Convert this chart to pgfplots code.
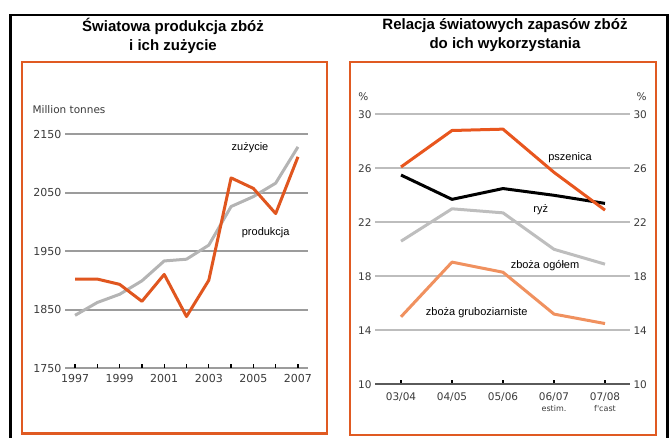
\documentclass[border=0pt]{standalone}
\usepackage{fontspec}
\setmainfont{Liberation Sans}
\newfontfamily\tickfont{DejaVu Sans}
\usepackage{pgfplots}
\pgfplotsset{compat=1.18}

\definecolor{boxorange}{HTML}{E05A22}
\definecolor{prodorange}{HTML}{E0561F}
\definecolor{consgray}{HTML}{B4B4B4}
\definecolor{gridgray}{HTML}{9C9C9C}
\definecolor{rgridgray}{HTML}{BDBDBD}
\definecolor{basegray}{HTML}{5A5A5A}
\definecolor{labelgray}{HTML}{3A3A3A}
\definecolor{wheat}{HTML}{E8561E}
\definecolor{allgray}{HTML}{BEBEBE}
\definecolor{coarse}{HTML}{F0915F}

\begin{document}
\begin{tikzpicture}[x=1pt,y=1pt]
\path[use as bounding box] (0,0) rectangle (669,437);

% outer frame and panel boxes
\draw[black,line width=2.5pt] (10.5,-5) -- (10.5,422) -- (667.5,422) -- (667.5,-5);
\draw[boxorange,line width=2.5pt] (22,3.5) rectangle (327,375);
\draw[boxorange,line width=2.5pt] (350,2) rectangle (656,375);

% titles
\node[align=center,font=\bfseries\fontsize{15}{19}\selectfont] at (173,401.5)
  {Światowa produkcja zbóż\\i ich zużycie};
\node[align=center,font=\bfseries\fontsize{15}{19}\selectfont] at (505,401.5)
  {Relacja światowych zapasów zbóż\\do ich wykorzystania};

% left chart: production and consumption
\begin{axis}[
    at={(65pt,69pt)}, anchor=south west,
    scale only axis, width=243pt, height=234pt,
    xmin=1996.55, xmax=2007.45,
    ymin=1750, ymax=2150,
    ytick={1750,1850,...,2150},
    xtick={1997,...,2007},
    xticklabels={1997,,1999,,2001,,2003,,2005,,2007},
    xticklabel style={yshift=-3pt},
    axis line style={draw=none},
    ymajorgrids, grid style={gridgray,line width=2pt},
    tick align=inside, xtick pos=bottom, ytick pos=left,
    major tick length=4.5pt,
    xtick style={black,line width=1.3pt},
    ytick style={draw=none},
    tick label style={font=\tickfont\fontsize{11}{12}\selectfont,text=labelgray},
    /pgf/number format/assume math mode=true,
    /pgf/number format/set thousands separator={},
    clip=false,
]
\addplot[consgray,line width=3pt,line join=round] coordinates {
  (1997,1840) (1998,1862) (1999,1876) (2000,1899) (2001,1933) (2002,1936)
  (2003,1960) (2004,2026) (2005,2043) (2006,2066) (2007,2128)};
\addplot[prodorange,line width=3pt,line join=round] coordinates {
  (1997,1902) (1998,1902) (1999,1893) (2000,1864) (2001,1910) (2002,1838)
  (2003,1900) (2004,2075) (2005,2057) (2006,2014) (2007,2111)};
\end{axis}

\node[anchor=west,font=\tickfont\fontsize{10.5}{12}\selectfont,text=labelgray] at (29,327) {Million tonnes};
\node[font=\fontsize{11}{13}\selectfont] at (250,289) {zużycie};
\node[font=\fontsize{11}{13}\selectfont] at (265.7,204.3) {produkcja};

% right chart: stocks-to-use ratio
\begin{axis}[
    at={(375pt,52.7pt)}, anchor=south west,
    scale only axis, width=255pt, height=270pt,
    xmin=-0.51, xmax=4.49,
    ymin=10, ymax=30,
    ytick={14,18,...,30},
    extra y ticks={10},
    extra y tick style={grid style={basegray,line width=2pt}},
    xtick={0,...,4},
    xticklabels={03/04,04/05,05/06,
      {06/07\\[-1pt]{\fontsize{8}{9}\selectfont estim.}},
      {07/08\\[-1pt]{\fontsize{8}{9}\selectfont f'cast}}},
    xticklabel style={align=center,yshift=-5pt},
    axis line style={draw=none},
    ymajorgrids, grid style={rgridgray,line width=2.2pt},
    tick align=inside, xtick pos=bottom, ytick pos=left,
    major tick length=4.5pt,
    xtick style={black,line width=1.3pt},
    ytick style={draw=none},
    tick label style={font=\tickfont\fontsize{10.5}{12}\selectfont,text=labelgray},
    /pgf/number format/assume math mode=true,
    clip=false,
]
\addplot[coarse,line width=3pt,line join=round] coordinates {
  (0,15.0) (1,19.05) (2,18.3) (3,15.2) (4,14.5)};
\addplot[allgray,line width=3pt,line join=round] coordinates {
  (0,20.6) (1,23.0) (2,22.7) (3,20.0) (4,18.9)};
\addplot[black,line width=3pt,line join=round] coordinates {
  (0,25.5) (1,23.7) (2,24.5) (3,24.0) (4,23.4)};
\addplot[wheat,line width=3pt,line join=round] coordinates {
  (0,26.1) (1,28.8) (2,28.9) (3,25.7) (4,22.9)};
\end{axis}

% right-hand tick labels
\begin{axis}[
    at={(375pt,52.7pt)}, anchor=south west,
    scale only axis, width=255pt, height=270pt,
    xmin=-0.51, xmax=4.49,
    ymin=10, ymax=30,
    ytick={10,14,...,30},
    hide x axis,
    axis y line*=right,
    y axis line style={draw=none},
    ytick style={draw=none},
    tick label style={font=\tickfont\fontsize{10.5}{12}\selectfont,text=labelgray},
    /pgf/number format/assume math mode=true,
]
\end{axis}

\node[font=\tickfont\fontsize{10.5}{12}\selectfont,text=labelgray] at (363.3,340.3) {\%};
\node[font=\tickfont\fontsize{10.5}{12}\selectfont,text=labelgray] at (641.7,340.3) {\%};
\node[font=\fontsize{11}{13}\selectfont] at (570,279.7) {pszenica};
\node[font=\fontsize{11}{13}\selectfont] at (540.7,227) {ryż};
\node[font=\fontsize{11}{13}\selectfont] at (545,171) {zboża ogółem};
\node[font=\fontsize{11}{13}\selectfont] at (476.7,124.7) {zboża gruboziarniste};
\end{tikzpicture}
\end{document}
